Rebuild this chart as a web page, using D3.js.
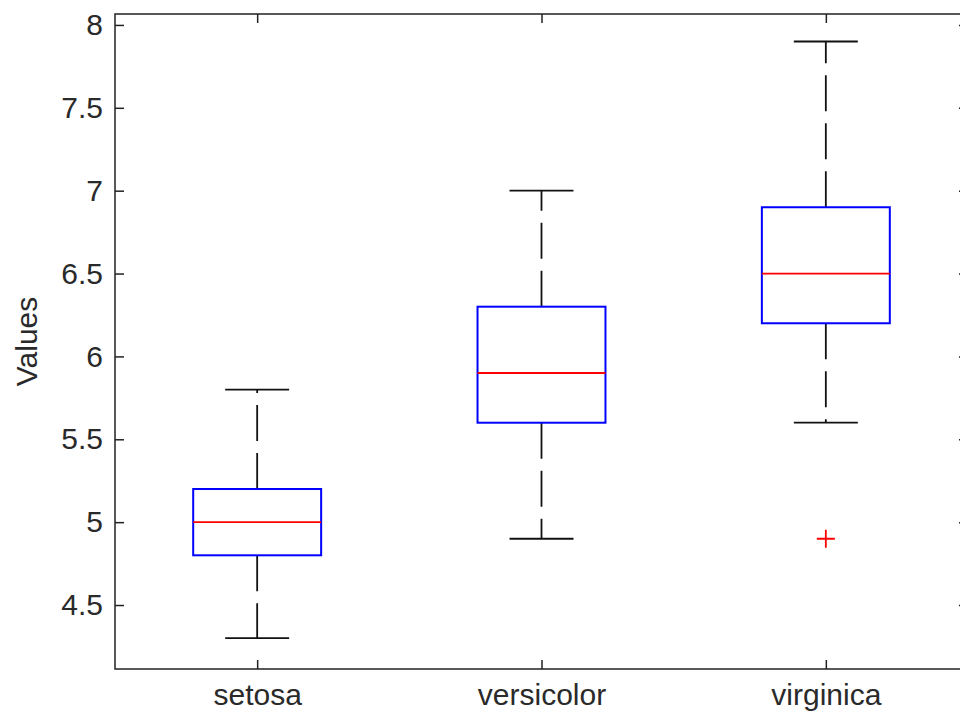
<!DOCTYPE html>
<html>
<head>
<meta charset="utf-8">
<script src="https://cdn.jsdelivr.net/npm/d3@7"></script>
<style>
	html, body { margin: 0; padding: 0; background: #fff; }
	svg { display: block; }
	.tick text { font-family: "Liberation Sans", Arial, sans-serif; font-size: 30px; fill: #2a2a2a; }
	.axis-label { font-family: "Liberation Sans", Arial, sans-serif; font-size: 30px; fill: #2a2a2a; }
</style>
</head>
<body>
<script>
"use strict";

/* global d3 */

// Box statistics per group
var groups       = ["setosa", "versicolor", "virginica"];
var lowerWhisker = [4.3, 4.9, 5.6];
var q1           = [4.8, 5.6, 6.2];
var median       = [5.0, 5.9, 6.5];
var q3           = [5.2, 6.3, 6.9];
var upperWhisker = [5.8, 7.0, 7.9];
var outlierGroup = ["virginica"];
var outlierValue = [4.9];
var yTicks       = [4.5, 5, 5.5, 6, 6.5, 7, 7.5, 8];

var W = 960, H = 713;
var plot = { l: 115, r: 968, t: 14, b: 669 };

var svg = d3.select("body").append("svg").attr("width", W).attr("height", H);

// Scales: groups sit at 1..n, MATLAB-style limits [0.5, n+0.5]
var x = d3.scaleLinear().domain([0.5, groups.length + 0.5]).range([plot.l, plot.r]);
var y = d3.scaleLinear().domain([4.114, 8.066]).range([plot.b, plot.t]);
var boxHalf = 0.225, capHalf = 0.1125;
var pos = function(i) { return x(i + 1); };
var xTicks = groups.map(function(d, i) { return i + 1; });

// Axes with inward ticks on all four sides
var fmt = function(d) { return String(d); };
svg.append("g").attr("transform", "translate(" + plot.l + ",0)").
	call(d3.axisLeft(y).tickValues(yTicks).tickFormat(fmt).tickSize(-9).tickSizeOuter(0).tickPadding(12));
svg.append("g").attr("transform", "translate(" + plot.r + ",0)").
	call(d3.axisRight(y).tickValues(yTicks).tickFormat("").tickSize(-9).tickSizeOuter(0));
svg.append("g").attr("transform", "translate(0," + plot.b + ")").
	call(d3.axisBottom(x).tickValues(xTicks).
		tickFormat(function(d) { return groups[d - 1]; }).tickSize(-9).tickSizeOuter(0).tickPadding(15));
svg.append("g").attr("transform", "translate(0," + plot.t + ")").
	call(d3.axisTop(x).tickValues(xTicks).tickFormat("").tickSize(-9).tickSizeOuter(0));

svg.selectAll(".domain").remove();
svg.selectAll(".tick line").attr("stroke", "#222").attr("stroke-width", 1.5);

// Axes frame
svg.append("rect").attr("x", plot.l).attr("y", plot.t).
	attr("width", plot.r - plot.l).attr("height", plot.b - plot.t).
	attr("fill", "none").attr("stroke", "#222").attr("stroke-width", 1.5);

// Y label
svg.append("text").attr("class", "axis-label").
	attr("transform", "translate(37," + (plot.t + plot.b) / 2 + ") rotate(-90)").
	attr("text-anchor", "middle").text("Values");

var boxes = svg.append("g").selectAll("g").data(groups).join("g");

// Whiskers, drawn from the box edge outward so the dash phase starts at the box
boxes.append("line").
	attr("x1", function(d, i) { return pos(i); }).attr("x2", function(d, i) { return pos(i); }).
	attr("y1", function(d, i) { return y(q3[i]); }).attr("y2", function(d, i) { return y(upperWhisker[i]); }).
	attr("stroke", "#111").attr("stroke-width", 1.8).attr("stroke-dasharray", "36,12");
boxes.append("line").
	attr("x1", function(d, i) { return pos(i); }).attr("x2", function(d, i) { return pos(i); }).
	attr("y1", function(d, i) { return y(q1[i]); }).attr("y2", function(d, i) { return y(lowerWhisker[i]); }).
	attr("stroke", "#111").attr("stroke-width", 1.8).attr("stroke-dasharray", "36,12");

// Whisker caps
[upperWhisker, lowerWhisker].forEach(function(arr) {
	boxes.append("line").
		attr("x1", function(d, i) { return x(i + 1 - capHalf); }).
		attr("x2", function(d, i) { return x(i + 1 + capHalf); }).
		attr("y1", function(d, i) { return y(arr[i]); }).attr("y2", function(d, i) { return y(arr[i]); }).
		attr("stroke", "#111").attr("stroke-width", 1.8);
});

// Boxes
boxes.append("rect").
	attr("x", function(d, i) { return x(i + 1 - boxHalf); }).
	attr("width", function(d, i) { return x(i + 1 + boxHalf) - x(i + 1 - boxHalf); }).
	attr("y", function(d, i) { return y(q3[i]); }).
	attr("height", function(d, i) { return y(q1[i]) - y(q3[i]); }).
	attr("fill", "none").attr("stroke", "#0000ff").attr("stroke-width", 2);

// Medians
boxes.append("line").
	attr("x1", function(d, i) { return x(i + 1 - boxHalf); }).
	attr("x2", function(d, i) { return x(i + 1 + boxHalf); }).
	attr("y1", function(d, i) { return y(median[i]); }).attr("y2", function(d, i) { return y(median[i]); }).
	attr("stroke", "#ff0000").attr("stroke-width", 1.8);

// Outliers as red '+' markers
var s = 9;
svg.append("g").selectAll("path").data(outlierValue).join("path").
	attr("d", function(d, i) {
		var cx = pos(groups.indexOf(outlierGroup[i])), cy = y(d);
		return "M" + (cx - s) + "," + cy + "H" + (cx + s) + "M" + cx + "," + (cy - s) + "V" + (cy + s);
	}).
	attr("fill", "none").attr("stroke", "#ff0000").attr("stroke-width", 1.8);
</script>
</body>
</html>
